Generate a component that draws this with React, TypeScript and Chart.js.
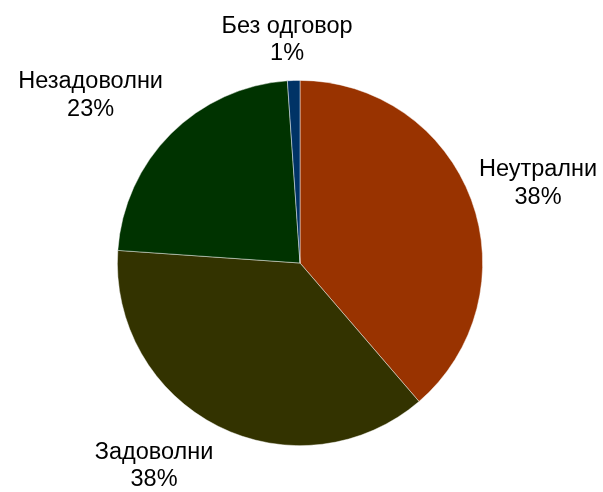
import React, { useEffect, useRef } from "react";
import { Chart, registerables } from "chart.js";

Chart.register(...registerables);

const categories = ["Неутрални", "Задоволни", "Незадоволни", "Без одговор"];
const values = [38.7, 37.4, 22.8, 1.1];
const percentLabels = ["38%", "38%", "23%", "1%"];
const colors = ["#993300", "#333300", "#003300", "#003366"];

// small per-label nudges (px) applied to the outside-end label placement
const labelNudges: [number, number][] = [
  [2, -5],
  [-33, 7],
  [-22, -15],
  [-4, -7],
];

const outsideLabels = {
  id: "outsideLabels",
  afterDraw(chart: any) {
    const ctx = chart.ctx;
    const meta = chart.getDatasetMeta(0);
    ctx.save();
    ctx.font = '23.5px "Liberation Sans", Arial, sans-serif';
    ctx.fillStyle = "#000000";
    ctx.textAlign = "center";
    ctx.textBaseline = "alphabetic";
    meta.data.forEach((arc: any, i: number) => {
      const { x, y, startAngle, endAngle, outerRadius } = arc.getProps(
        ["x", "y", "startAngle", "endAngle", "outerRadius"],
        true
      );
      const mid = (startAngle + endAngle) / 2;
      const dx = Math.cos(mid);
      const dy = Math.sin(mid);
      const gap = 10;
      const ax = x + dx * (outerRadius + gap);
      const ay = y + dy * (outerRadius + gap);
      const l1 = categories[i];
      const l2 = percentLabels[i];
      const w = Math.max(ctx.measureText(l1).width, ctx.measureText(l2).width);
      const h = 50;
      const cx = ax + (dx * w) / 2 + labelNudges[i][0];
      const cy = ay + (dy * h) / 2 + labelNudges[i][1];
      ctx.fillText(l1, cx, cy - 6);
      ctx.fillText(l2, cx, cy + 21.5);
    });
    ctx.restore();
  },
};

export default function App() {
  const ref = useRef<HTMLCanvasElement | null>(null);
  useEffect(() => {
    if (!ref.current) return;
    const chart = new Chart(ref.current, {
      type: "pie",
      data: {
        labels: categories,
        datasets: [
          {
            data: values,
            backgroundColor: colors,
            borderColor: "rgba(255,255,255,0.6)",
            borderWidth: 0.75,
          },
        ],
      },
      options: {
        responsive: false,
        animation: false,
        layout: { padding: { left: 117, right: 120, top: 80, bottom: 46 } },
        plugins: {
          legend: { display: false },
          tooltip: { enabled: false },
        },
      },
      plugins: [outsideLabels],
    });
    return () => chart.destroy();
  }, []);
  return (
    <div style={{ position: "fixed", left: 0, top: 0, width: 603, height: 492, background: "#ffffff" }}>
      <canvas ref={ref} width={603} height={492} />
    </div>
  );
}
